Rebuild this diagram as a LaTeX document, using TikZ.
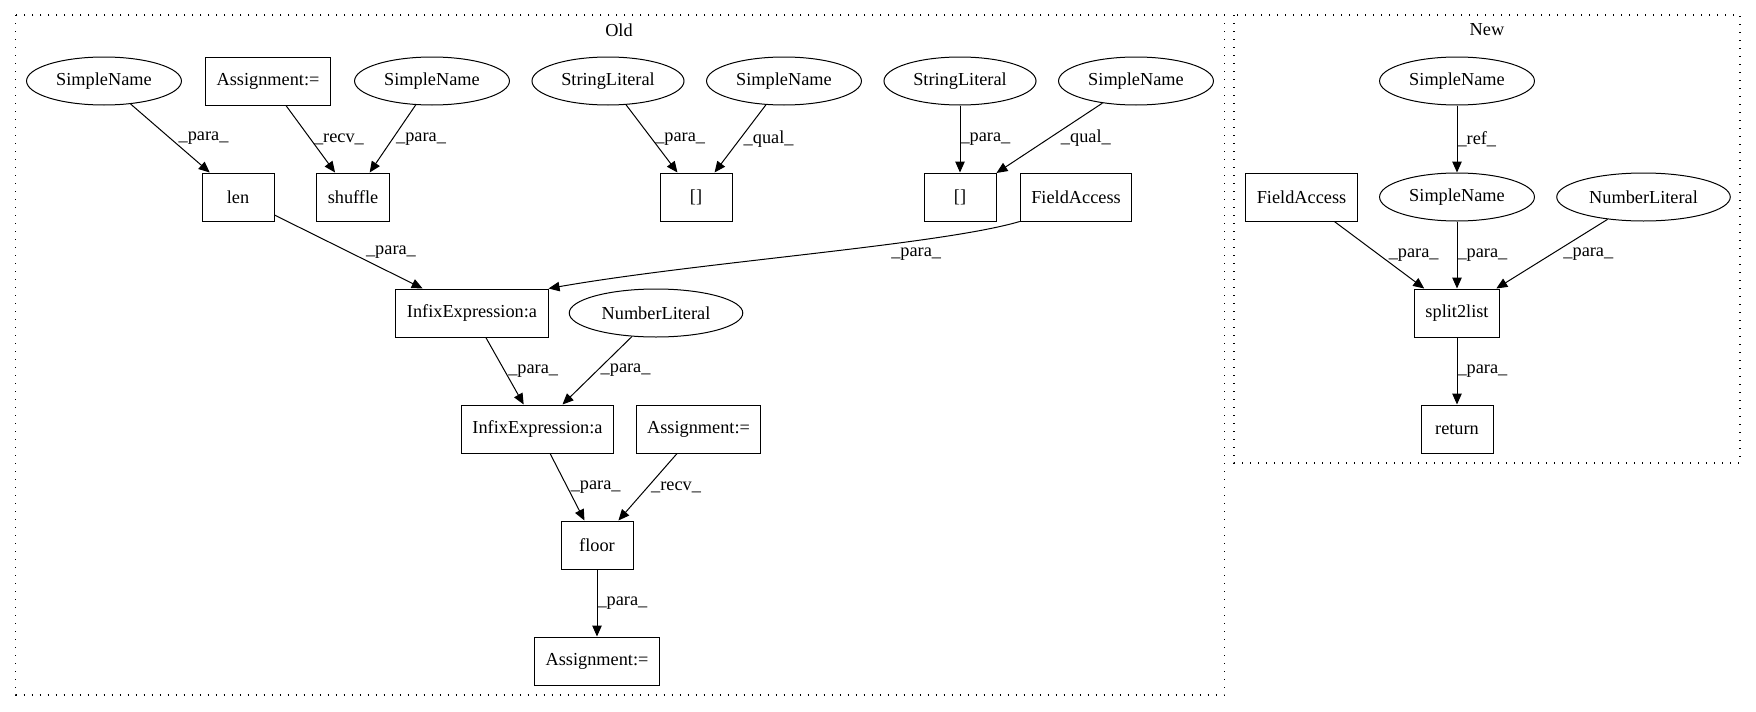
\documentclass[tikz,border=0pt]{standalone}
\usepackage{fontspec}
\setmainfont{Liberation Serif}
\usetikzlibrary{shapes.geometric,positioning,arrows.meta}

\begin{document}
\begin{tikzpicture}[x=1pt,y=-1pt,node distance=116pt,on grid,
    line width=1pt,>={Triangle[length=11pt,width=9.5pt]},
    font=\fontsize{18.3}{21}\selectfont,
    box/.style={draw,rectangle,minimum width=72pt,minimum height=48pt,inner xsep=11pt},
    oval/.style={draw,ellipse,minimum height=48pt,inner xsep=7pt},
    lbl/.style={anchor=west,inner sep=3pt},
    cluster/.style={line width=1.3pt,dash pattern=on 1.3pt off 6.7pt}]
   \useasboundingbox (0,0) rectangle (1756,712);
   \draw[cluster] (15.6,15) rectangle (1224.5,695);
   \draw[cluster] (1234,15) rectangle (1740,463);
   \node (old) at (619,30) {Old};
   \node (new) at (1487,30) {New};
   % old
   \node[oval] (sn_1) at (104,81) {SimpleName};
   \node[box] (asg_1) [right=164pt of sn_1] {Assignment:=};
   \node[oval] (sn_2) [right=164pt of asg_1] {SimpleName};
   \node[oval] (sl_1) [right=176pt of sn_2] {StringLiteral};
   \node[oval] (sn_3) [right=176pt of sl_1] {SimpleName};
   \node[oval] (sl_2) [right=176pt of sn_3] {StringLiteral};
   \node[oval] (sn_4) [right=176pt of sl_2] {SimpleName};
   \node[box] (len) [below right=116pt and 134pt of sn_1] {len};
   \node[box] (shuffle) [right=115pt of len] {shuffle};
   \node[box] (br_1) [below right=116pt and 88pt of sl_1] {[]};
   \node[box] (br_2) [below=of sl_2] {[]};
   \node[box] (fa_1) [right=116pt of br_2] {FieldAccess};
   \node[box] (infix_1) [below right=116pt and 234pt of len] {InfixExpression:a};
   \node[oval] (nl_1) [right=184pt of infix_1] {NumberLiteral};
   \node[box] (infix_2) [below right=116pt and 65.5pt of infix_1] {InfixExpression:a};
   \node[box] (asg_2) [right=161pt of infix_2] {Assignment:=};
   \node[box] (floor) [below right=116pt and 59.5pt of infix_2] {floor};
   \node[box] (asg_3) [below=of floor] {Assignment:=};
   % new
   \node[oval] (sn_5) at (1457,81) {SimpleName};
   \node[oval] (sn_6) [below=of sn_5] {SimpleName};
   \node[box] (fa_2) [left=155.5pt of sn_6] {FieldAccess};
   \node[oval] (nl_2) [right=186.5pt of sn_6] {NumberLiteral};
   \node[box] (split) [below=of sn_6] {split2list};
   \node[box] (ret) [below=of split] {return};
    \path[->]
    (sn_1) edge node[lbl,xshift=5pt] {\_para\_} (len)
    (asg_1) edge node[lbl] {\_recv\_} (shuffle)
    (sn_2) edge node[lbl] {\_para\_} (shuffle)
    (sl_1) edge node[lbl] {\_para\_} (br_1)
    (sn_3) edge node[lbl] {\_qual\_} (br_1)
    (sl_2) edge node[lbl,xshift=-3pt] {\_para\_} (br_2)
    (sn_4) edge node[lbl,xshift=8pt] {\_qual\_} (br_2)
    (len) edge node[lbl,xshift=14pt] {\_para\_} (infix_1)
    (infix_1) edge node[lbl] {\_para\_} (infix_2)
    (nl_1) edge node[lbl] {\_para\_} (infix_2)
    (infix_2) edge node[lbl] {\_para\_} (floor)
    (asg_2) edge node[lbl] {\_recv\_} (floor)
    (floor) edge node[lbl,xshift=-3pt] {\_para\_} (asg_3);
   \draw[->] (fa_1.south west) .. controls (940,245) and (700,262) .. (infix_1.north east)
      node[lbl,anchor=north west,pos=0.35] {\_para\_};
    \path[->]
    (sn_5) edge node[lbl,xshift=-3pt] {\_ref\_} (sn_6)
    (fa_2) edge node[lbl,xshift=6pt] {\_para\_} (split)
    (sn_6) edge node[lbl,xshift=-3pt] {\_para\_} (split)
    (nl_2) edge node[lbl,xshift=8pt] {\_para\_} (split)
    (split) edge node[lbl,xshift=-3pt] {\_para\_} (ret);
\end{tikzpicture}
\end{document}
